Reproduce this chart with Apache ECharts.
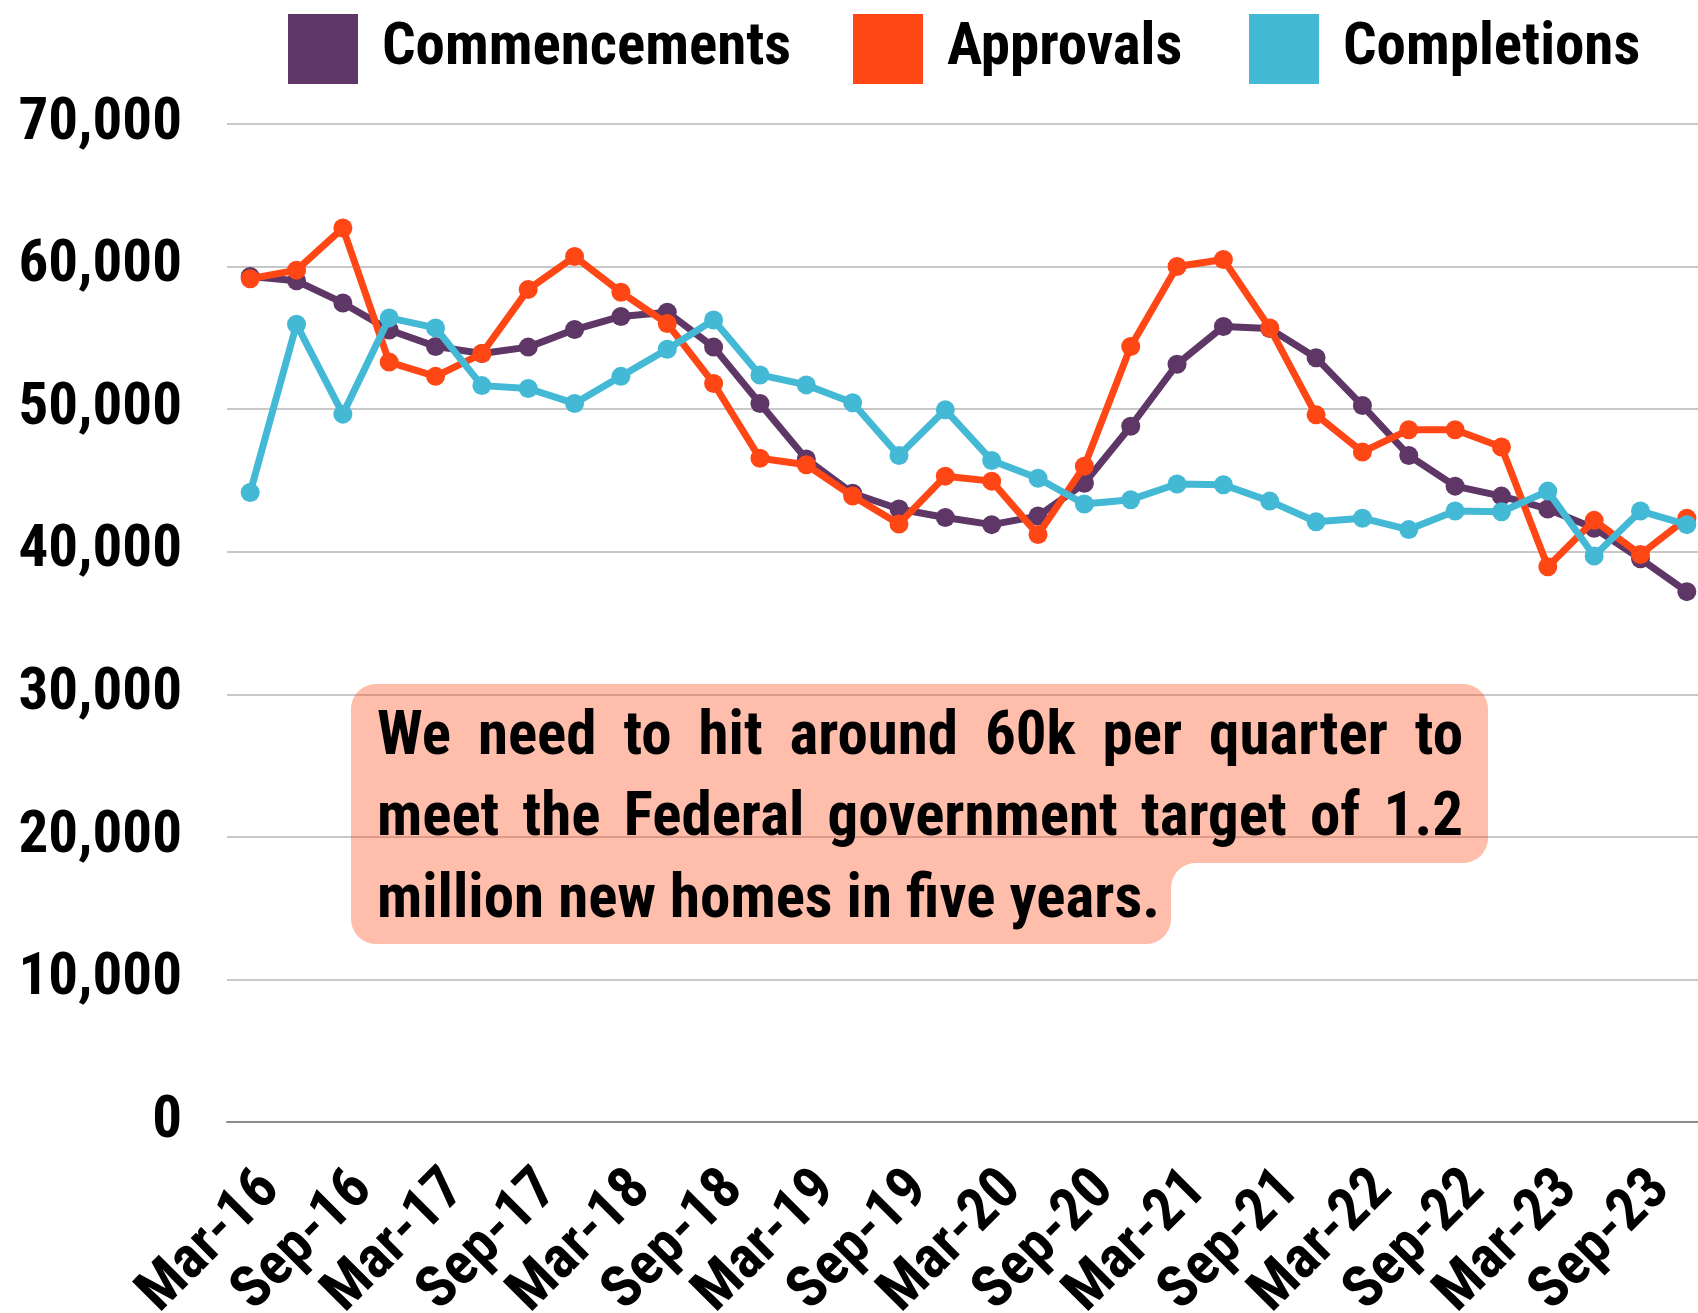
<!DOCTYPE html>
<html>
<head>
<meta charset="utf-8">
<script src="https://cdn.jsdelivr.net/npm/echarts@6/dist/echarts.min.js"></script>
<style>
  html, body { margin: 0; padding: 0; background: #ffffff; }
  #chart { width: 1698px; height: 1313px; }
</style>
</head>
<body>
<div id="chart"></div>
<script>
// ---------------- DATA ----------------
const categories = [
  'Mar-16','Jun-16','Sep-16','Dec-16',
  'Mar-17','Jun-17','Sep-17','Dec-17',
  'Mar-18','Jun-18','Sep-18','Dec-18',
  'Mar-19','Jun-19','Sep-19','Dec-19',
  'Mar-20','Jun-20','Sep-20','Dec-20',
  'Mar-21','Jun-21','Sep-21','Dec-21',
  'Mar-22','Jun-22','Sep-22','Dec-22',
  'Mar-23','Jun-23','Sep-23','Dec-23'
];
const commencements = [
  59300, 59000, 57450, 55550, 54400, 53900, 54350, 55580,
  56500, 56800, 54350, 50400, 46500, 44100, 43000, 42400,
  41900, 42500, 44800, 48800, 53150, 55800, 55650, 53600,
  50250, 46750, 44600, 43900, 43000, 41650, 39500, 37200
];
const approvals = [
  59150, 59750, 62700, 53300, 52300, 53900, 58400, 60700,
  58200, 56000, 51800, 46550, 46100, 43900, 41950, 45300,
  44950, 41200, 46000, 54400, 60000, 60500, 55700, 49600,
  47000, 48550, 48550, 47350, 38950, 42200, 39800, 42350
];
const completions = [
  44150, 55950, 49650, 56400, 55700, 51650, 51450, 50400,
  52300, 54200, 56250, 52400, 51700, 50450, 46750, 49950,
  46400, 45150, 43350, 43650, 44750, 44700, 43550, 42100,
  42350, 41550, 42850, 42800, 44250, 39700, 42850, 41900
];
const seriesNames = ['Commencements', 'Approvals', 'Completions'];
const seriesColors = ['#5E3766', '#FF4715', '#43B9D6'];
const yMin = 0, yMax = 70000, yStep = 10000;
const noteLines = [
  'We need to hit around 60k per quarter to',
  'meet the Federal government target of 1.2',
  'million new homes in five years.'
];

// ---------------- FONT PICK ----------------
function fontAvailable(name) {
  const c = document.createElement('canvas').getContext('2d');
  const s = 'Commencements 0123456789 WMwm';
  let res = false;
  ['monospace', 'serif'].forEach(function (fb) {
    c.font = 'bold 50px ' + fb;
    const a = c.measureText(s).width;
    c.font = 'bold 50px "' + name + '", ' + fb;
    const b = c.measureText(s).width;
    if (Math.abs(a - b) > 0.5) res = true;
  });
  return res;
}
const FONT = ['Liberation Sans Narrow', 'Arial Narrow', 'Roboto Condensed', 'DejaVu Sans Condensed', 'Liberation Sans']
  .find(fontAvailable) || 'sans-serif';

const AXIS_FS = 59;
const NOTE_FS = 61;

// ---------------- NOTE BOX (rounded notched shape) ----------------
const BOX = { l: 351, t: 684, r: 1488, m: 863, n: 1171, b: 944, rad: 25 };
function arcPts(cx, cy, rad, a0, a1) {
  const pts = [];
  const steps = 10;
  for (let k = 0; k <= steps; k++) {
    const a = a0 + (a1 - a0) * k / steps;
    pts.push([cx + rad * Math.cos(a), cy + rad * Math.sin(a)]);
  }
  return pts;
}
function boxPoints(o) {
  const r = o.rad, P = Math.PI;
  return [].concat(
    arcPts(o.l + r, o.t + r, r, P, 1.5 * P),
    arcPts(o.r - r, o.t + r, r, 1.5 * P, 2 * P),
    arcPts(o.r - r, o.m - r, r, 0, 0.5 * P),
    arcPts(o.n + r, o.m + r, r, 1.5 * P, P),
    arcPts(o.n - r, o.b - r, r, 0, 0.5 * P),
    arcPts(o.l + r, o.b - r, r, 0.5 * P, P)
  );
}
const TEXT_LEFT = 377, TEXT_RIGHT = 1463;
const lineCenters = [739, 820, 902];
const mctx = document.createElement('canvas').getContext('2d');
mctx.font = 'bold ' + NOTE_FS + 'px "' + FONT + '"';
function lineElements(text, y, justify) {
  const words = text.split(' ');
  const widths = words.map(function (w) { return mctx.measureText(w).width; });
  const total = widths.reduce(function (a, b) { return a + b; }, 0);
  const gap = justify ? (TEXT_RIGHT - TEXT_LEFT - total) / (words.length - 1) : mctx.measureText(' ').width;
  let x = TEXT_LEFT;
  const els = [];
  words.forEach(function (w, i) {
    els.push({
      type: 'text', x: x, y: y, z: 20,
      style: {
        text: w, fill: '#000000',
        fontFamily: FONT, fontWeight: 'bold', fontSize: NOTE_FS,
        align: 'left', verticalAlign: 'middle'
      }
    });
    x += widths[i] + gap;
  });
  return els;
}
let noteTexts = [];
noteLines.forEach(function (t, i) {
  noteTexts = noteTexts.concat(lineElements(t, lineCenters[i], i < noteLines.length - 1));
});

// ---------------- CHART ----------------
const chart = echarts.init(document.getElementById('chart'), null, { renderer: 'canvas' });
const legendLefts = [288, 853, 1249];
const seriesData = [commencements, approvals, completions];

const option = {
  backgroundColor: '#ffffff',
  animation: false,
  textStyle: { fontFamily: FONT },
  legend: seriesNames.map(function (name, i) {
    return {
      data: [name], left: legendLefts[i], top: 14, padding: 0,
      icon: 'rect', itemWidth: 70, itemHeight: 70, itemGap: 0,
      textStyle: {
        fontFamily: FONT, fontWeight: 'bold', fontSize: AXIS_FS, color: '#000',
        padding: [0, 0, 8, 19]
      }
    };
  }),
  grid: { left: 227, right: -12, top: 124, bottom: 191, containLabel: false, outerBoundsMode: 'none' },
  xAxis: {
    type: 'category',
    data: categories,
    boundaryGap: true,
    axisLine: { show: true, lineStyle: { color: '#8c8c8c', width: 2 } },
    axisTick: { show: false },
    splitLine: { show: false },
    axisLabel: {
      interval: 1, rotate: 45, margin: 38,
      align: 'right', verticalAlign: 'top',
      fontFamily: FONT, fontWeight: 'bold', fontSize: AXIS_FS, color: '#000'
    }
  },
  yAxis: {
    type: 'value', min: yMin, max: yMax, interval: yStep,
    axisLine: { show: false }, axisTick: { show: false },
    splitLine: { show: true, lineStyle: { color: '#c8c8c8', width: 2 } },
    axisLabel: {
      margin: 45,
      fontFamily: FONT, fontWeight: 'bold', fontSize: AXIS_FS, color: '#000',
      formatter: function (v) { return v.toLocaleString('en-US'); }
    }
  },
  series: seriesNames.map(function (name, i) {
    return {
      name: name, type: 'line', data: seriesData[i],
      color: seriesColors[i],
      symbol: 'circle', symbolSize: 19,
      lineStyle: { width: 7, color: seriesColors[i] },
      itemStyle: { color: seriesColors[i] },
      z: 3 + i, clip: false
    };
  }),
  graphic: [
    {
      type: 'polygon', z: 10,
      shape: { points: boxPoints(BOX) },
      style: { fill: '#FF4715', opacity: 0.36 }
    }
  ].concat(noteTexts)
};
chart.setOption(option);
</script>
</body>
</html>
